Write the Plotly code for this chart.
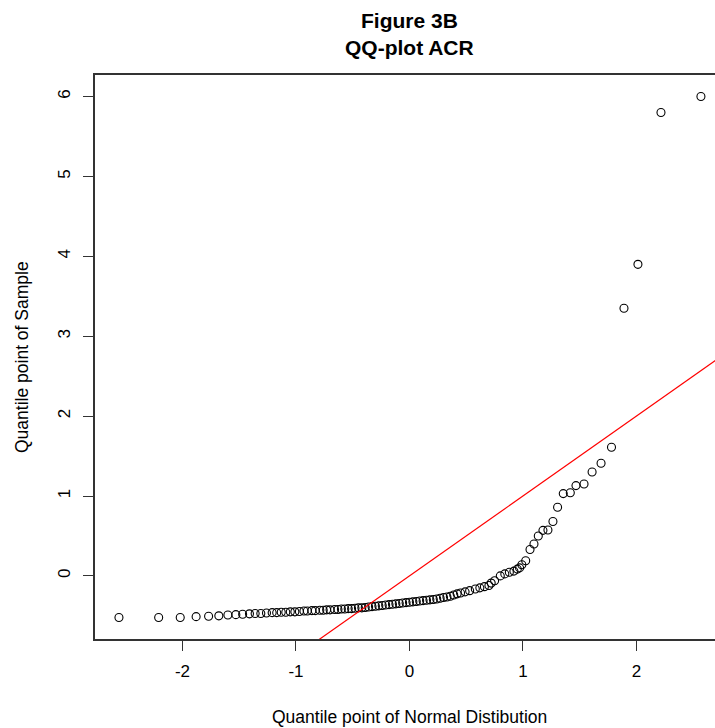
import plotly.graph_objects as go

# Theoretical (normal) quantiles
normal_q = [
    -2.56, -2.21, -2.02, -1.88, -1.77, -1.68, -1.60, -1.53, -1.47,
    -1.41, -1.36, -1.31, -1.26, -1.21, -1.17, -1.13, -1.09, -1.05, -1.01,
    -0.97, -0.93, -0.90, -0.86, -0.83, -0.79, -0.76, -0.73, -0.70, -0.66,
    -0.63, -0.60, -0.57, -0.54, -0.51, -0.48, -0.45, -0.42, -0.39, -0.36,
    -0.33, -0.30, -0.27, -0.24, -0.21, -0.18, -0.15, -0.12, -0.09, -0.06,
    -0.03, 0.00, 0.03, 0.06, 0.09, 0.12, 0.15, 0.18, 0.21, 0.24,
    0.27, 0.30, 0.33, 0.36, 0.39, 0.42, 0.45, 0.49, 0.53, 0.58,
    0.62, 0.66, 0.70, 0.72, 0.75, 0.80, 0.84, 0.88, 0.92, 0.95, 0.97, 0.99,
    1.024, 1.062, 1.097, 1.135, 1.176, 1.22, 1.264, 1.305, 1.355, 1.417,
    1.467, 1.538, 1.609, 1.688, 1.78, 1.89, 2.013, 2.216, 2.568,
]

# Sample quantiles (ACR)
sample_q = [
    -0.52, -0.52, -0.52, -0.51, -0.505, -0.50, -0.49, -0.485, -0.48,
    -0.475, -0.47, -0.47, -0.465, -0.46, -0.46, -0.455, -0.455, -0.45, -0.45,
    -0.445, -0.44, -0.44, -0.435, -0.435, -0.43, -0.43, -0.425, -0.425, -0.42,
    -0.42, -0.415, -0.415, -0.41, -0.41, -0.405, -0.40, -0.40, -0.395, -0.39,
    -0.385, -0.38, -0.375, -0.37, -0.365, -0.36, -0.355, -0.35, -0.345, -0.34,
    -0.335, -0.33, -0.325, -0.32, -0.315, -0.31, -0.305, -0.30, -0.295, -0.29,
    -0.28, -0.27, -0.265, -0.255, -0.24, -0.225, -0.215, -0.20, -0.185, -0.165,
    -0.15, -0.135, -0.12, -0.09, -0.06, 0.00, 0.025, 0.045, 0.06, 0.085, 0.10, 0.14,
    0.19, 0.33, 0.40, 0.50, 0.57, 0.575, 0.68, 0.86, 1.03, 1.04,
    1.13, 1.15, 1.30, 1.41, 1.61, 3.35, 3.90, 5.80, 6.00,
]

x_ticks = [-2, -1, 0, 1, 2]
y_ticks = [0, 1, 2, 3, 4, 5, 6]

ref_intercept = 0.0
ref_slope = 1.0

x_range = [-2.771, 2.692]
y_range = [-0.79, 6.27]

FONT = "Liberation Sans, Arial, sans-serif"

fig = go.Figure()

fig.add_trace(go.Scatter(
    x=normal_q, y=sample_q, mode="markers",
    marker=dict(symbol="circle-open", size=8, color="black",
                line=dict(width=1.1, color="black")),
    showlegend=False, hoverinfo="x+y",
))

line_x = [x_range[0] - 1, x_range[1] + 1]
line_y = [ref_intercept + ref_slope * v for v in line_x]
fig.add_trace(go.Scatter(
    x=line_x, y=line_y, mode="lines",
    line=dict(color="#ff0000", width=1.2),
    showlegend=False, hoverinfo="skip",
))

fig.update_layout(
    width=715, height=728,
    margin=dict(l=95, r=0, t=75, b=89),
    paper_bgcolor="white", plot_bgcolor="white",
    font=dict(family=FONT, color="black", size=17),
    xaxis=dict(
        range=x_range, tickvals=x_ticks, ticktext=[str(v) for v in x_ticks],
        showgrid=False, zeroline=False, showline=True, linecolor="#333333",
        linewidth=1.5, mirror=True, ticks="outside", ticklen=10, tickwidth=1.2,
        tickcolor="#333333", tickfont=dict(size=17, family=FONT, color="black"),
        ticklabelstandoff=6,
    ),
    yaxis=dict(
        range=y_range, tickvals=y_ticks, ticktext=[str(v) for v in y_ticks],
        showgrid=False, zeroline=False, showline=True, linecolor="#333333",
        linewidth=1.5, mirror=False, ticks="outside", ticklen=10, tickwidth=1.2,
        tickcolor="#333333", tickangle=-90,
        tickfont=dict(size=17, family=FONT, color="black"),
        ticklabelstandoff=6,
    ),
    annotations=[
        dict(text="<b>Figure 3B</b>", xref="x", yref="paper", x=0, y=1,
             xanchor="center", yanchor="middle", yshift=55, showarrow=False,
             font=dict(size=21, family=FONT, color="black")),
        dict(text="<b>QQ-plot ACR</b>", xref="x", yref="paper", x=0, y=1,
             xanchor="center", yanchor="middle", yshift=28, showarrow=False,
             font=dict(size=21, family=FONT, color="black")),
        dict(text="Quantile point of Normal Distibution", xref="x", yref="paper",
             x=0, y=0, xanchor="center", yanchor="middle", yshift=-78,
             showarrow=False, font=dict(size=17.5, family=FONT, color="black")),
        dict(text="Quantile point of Sample", xref="paper", yref="paper",
             x=0, y=0.5, xanchor="center", yanchor="middle", xshift=-73,
             textangle=-90, showarrow=False,
             font=dict(size=17.5, family=FONT, color="black")),
    ],
)

fig.write_html(
    "out.html",
    config={"displayModeBar": False},
    post_script="document.body.style.margin='0px';document.body.style.overflow='hidden';",
)
